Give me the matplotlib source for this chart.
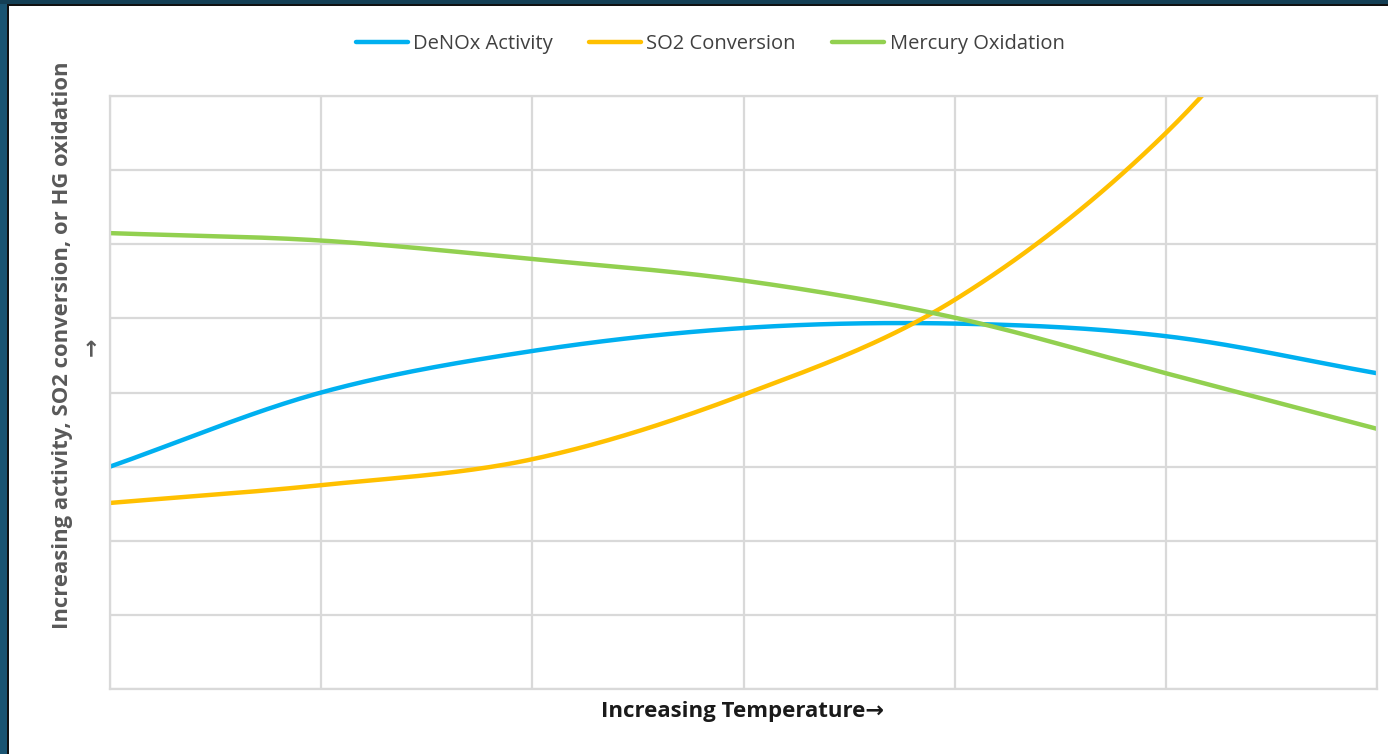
import numpy as np
import matplotlib
matplotlib.use("Agg")
import matplotlib.pyplot as plt
from matplotlib.patches import Rectangle

plt.rcParams['font.family'] = ['Open Sans', 'DejaVu Sans']

# Sample points along the temperature axis
temperature_steps = [0, 1, 2, 3, 4, 5, 6]
denox_activity = [3.0, 4.0, 4.56, 4.87, 4.93, 4.76, 4.26]
so2_conversion = [2.51, 2.75, 3.10, 3.97, 5.25, 7.50, 10.8]
mercury_oxidation = [6.15, 6.05, 5.80, 5.51, 5.01, 4.26, 3.51]

series_names = ["DeNOx Activity", "SO2 Conversion", "Mercury Oxidation"]
series_colors = ["#00b0f0", "#ffc000", "#92d050"]


def smooth(xs, ys, n=40):
    """Catmull-Rom Bezier smoothing through every sample point."""
    x = np.asarray(xs, float)
    y = np.asarray(ys, float)
    px = np.concatenate([[2 * x[0] - x[1]], x, [2 * x[-1] - x[-2]]])
    py = np.concatenate([[2 * y[0] - y[1]], y, [2 * y[-1] - y[-2]]])
    out_x, out_y = [], []
    t = np.linspace(0, 1, n)
    for i in range(1, len(px) - 2):
        p0x, p0y = px[i], py[i]
        p3x, p3y = px[i + 1], py[i + 1]
        c1x = p0x + (px[i + 1] - px[i - 1]) / 6
        c1y = p0y + (py[i + 1] - py[i - 1]) / 6
        c2x = p3x - (px[i + 2] - px[i]) / 6
        c2y = p3y - (py[i + 2] - py[i]) / 6
        bx = ((1 - t) ** 3) * p0x + 3 * ((1 - t) ** 2) * t * c1x + 3 * (1 - t) * t ** 2 * c2x + t ** 3 * p3x
        by = ((1 - t) ** 3) * p0y + 3 * ((1 - t) ** 2) * t * c1y + 3 * (1 - t) * t ** 2 * c2y + t ** 3 * p3y
        out_x.append(bx if i == 1 else bx[1:])
        out_y.append(by if i == 1 else by[1:])
    return np.concatenate(out_x), np.concatenate(out_y)


fig = plt.figure(figsize=(13.88, 7.54), dpi=100)
fig.patch.set_facecolor("white")

# Dark frame along the top and left edges
fig.patches.append(Rectangle((0, 0), 7 / 1388, 1, transform=fig.transFigure,
                             facecolor="#1a5472", edgecolor="none", zorder=0))
fig.patches.append(Rectangle((7 / 1388, 0), 2 / 1388, 1 - 5 / 754, transform=fig.transFigure,
                             facecolor="#111111", edgecolor="none", zorder=0))
fig.patches.append(Rectangle((0, 1 - 4 / 754), 1, 4 / 754, transform=fig.transFigure,
                             facecolor="#143f55", edgecolor="none", zorder=0))
fig.patches.append(Rectangle((7 / 1388, 1 - 6 / 754), 1, 2 / 754, transform=fig.transFigure,
                             facecolor="#111111", edgecolor="none", zorder=0))

ax = fig.add_axes([110 / 1388, 65 / 754, 1267 / 1388, 593 / 754])
ax.set_xlim(0, 6)
ax.set_ylim(0, 8)
ax.set_xticks(range(0, 7))
ax.set_yticks(range(0, 9))
ax.tick_params(length=0, labelleft=False, labelbottom=False)
ax.grid(True, color="#d9d9d9", linewidth=1.6)
ax.set_axisbelow(True)
for s in ax.spines.values():
    s.set_color("#d9d9d9")
    s.set_linewidth(1.6)

for name, vals, col in zip(series_names,
                           [denox_activity, so2_conversion, mercury_oxidation],
                           series_colors):
    sx, sy = smooth(temperature_steps, vals)
    ax.plot(sx, sy, color=col, linewidth=3.2, solid_capstyle="round", label=name)

leg = fig.legend(loc="center", bbox_to_anchor=(710 / 1388, 1 - 44 / 754), ncol=3,
                 frameon=False, fontsize=14.5, handlelength=2.6, handletextpad=0.25,
                 columnspacing=1.8)
for t in leg.get_texts():
    t.set_color("#404040")

fig.text(742 / 1388, 1 - 711 / 754, "Increasing Temperature\u2192", ha="center", va="center",
         fontsize=16, fontweight="bold", color="#1a1a1a")
fig.text(63 / 1388, 1 - 345 / 754, "Increasing activity, SO2 conversion, or HG oxidation",
         rotation=90, ha="center", va="center", fontsize=15.8, fontweight="bold", color="#595959")
fig.text(92 / 1388, 1 - 347 / 754, "\u2192", rotation=90, ha="center", va="center",
         fontsize=15.8, fontweight="bold", color="#595959")

fig.savefig("out.png", dpi=100, facecolor="white")
